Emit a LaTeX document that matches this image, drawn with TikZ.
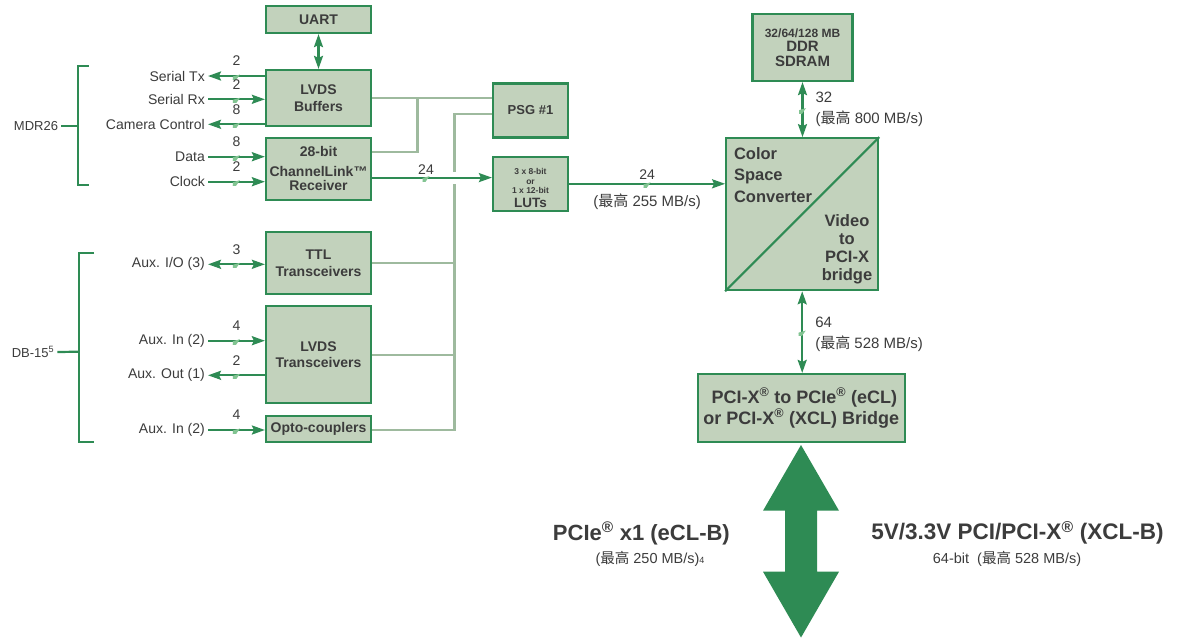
\documentclass[tikz,border=0pt]{standalone}
\usepackage{fontspec}
\setmainfont{Liberation Sans}
\newfontfamily\cjk{Noto Sans CJK SC}
\usetikzlibrary{arrows.meta,positioning}
\definecolor{boxfill}{RGB}{194,210,188}
\definecolor{boxline}{RGB}{46,139,84}
\definecolor{busgray}{RGB}{158,186,158}
\definecolor{txt}{RGB}{60,60,60}
\definecolor{tickc}{RGB}{130,196,146}
\newcommand{\zg}{{\cjk 最高}}
\newcommand{\reg}{\textsuperscript{®}}
\tikzset{
  blk/.style={draw=boxline, fill=boxfill, line width=2.2pt, text=txt, align=center,
    font=\bfseries\fontsize{14}{16.5}\selectfont, inner sep=2pt},
  sig/.style={draw=boxline, line width=2.2pt},
  bus/.style={draw=busgray, line width=2.4pt},
  brk/.style={draw=boxline, line width=2.2pt},
  lbl/.style={anchor=east, text=txt, font=\fontsize{14}{16}\selectfont, inner sep=3pt},
  note/.style={text=txt, font=\fontsize{15}{21.3}\selectfont, inner sep=2pt},
  num/.style={above=8pt, inner sep=1pt, text=txt, font=\fontsize{14}{14}\selectfont},
  slash/.style={inner sep=0pt, minimum width=7pt, minimum height=5pt, yshift=-1pt,
    path picture={\draw[tickc, line width=0.8pt] (path picture bounding box.south west) -- (path picture bounding box.north east);}},
  >={Stealth[length=13pt, width=9pt, inset=2pt]}
}
\begin{document}
\begin{tikzpicture}[x=1pt, y=-1pt]
\fill[white] (0,0) rectangle (1180,638);
\useasboundingbox (0,0) rectangle (1180,638);

% blocks
\node[blk, minimum width=105pt, minimum height=27pt] (uart) at (318.5,19.5) {UART};
\node[blk, minimum width=105pt, minimum height=56pt] (lvdsbuf) at (318.5,98) {LVDS\\Buffers};
\node[blk, minimum width=105pt, minimum height=62pt, font=\bfseries\fontsize{14}{14.5}\selectfont] (rx) at (318.5,168.6) {28-bit\\[5pt]ChannelLink™\\Receiver};
\node[blk, minimum width=105pt, minimum height=62pt] (ttl) at (318.5,263) {TTL\\Transceivers};
\node[blk, minimum width=105pt, minimum height=97pt] (lvdstr) at (318.5,354.7) {LVDS\\Transceivers};
\node[blk, minimum width=105pt, minimum height=26pt] (opto) at (318.5,428.6) {Opto-couplers};
\node[blk, minimum width=75pt, minimum height=54pt, font=\bfseries\fontsize{13}{15}\selectfont] (psg) at (530.5,110.5) {PSG \#1};
\node[blk, minimum width=75pt, minimum height=54pt] (lut) at (530.5,183.8) {};
\node[text=txt, align=center, inner sep=0pt, font=\bfseries\fontsize{8.5}{9.5}\selectfont] (luttxt) at (530.5,181) {3 x 8-bit\\or\\1 x 12-bit};
\node[text=txt, inner sep=0pt, font=\bfseries\fontsize{13.5}{13.5}\selectfont] (lutname) at (530.5,202.7) {LUTs};
\node[blk, minimum width=100pt, minimum height=67pt, font=\bfseries\fontsize{15}{14.5}\selectfont] (ddr) at (802.5,47.5) {{\fontsize{12}{13}\selectfont 32/64/128 MB}\\DDR\\SDRAM};
\node[blk, minimum width=152pt, minimum height=152pt] (csc) at (802.2,214.2) {};
\draw[sig] (csc.south west) -- (csc.north east);
\node[anchor=west, align=left, text=txt, font=\bfseries\fontsize{16.5}{21.7}\selectfont] (csctxt) at (730.5,175) {Color\\Space\\Converter};
\node[align=center, text=txt, font=\bfseries\fontsize{16.5}{18}\selectfont] (bridgetxt) at (847,249) {Video\\to\\PCI-X\\bridge};
\node[blk, minimum width=207pt, minimum height=68pt, font=\bfseries\fontsize{18}{21}\selectfont] (bridge) at (801.3,408) {\hspace*{6pt}PCI-X\reg{} to PCIe\reg{} (eCL)\\or PCI-X\reg{} (XCL) Bridge};

% connector labels
\node[lbl] (stx) at (208,76) {Serial Tx};
\node[lbl] (srx) at (208,99.3) {Serial Rx};
\node[lbl] (cam) at (208,124.3) {Camera Control};
\node[lbl] (dat) at (208,156.7) {Data};
\node[lbl] (clk) at (208,181.7) {Clock};
\node[lbl] (aio) at (208,264.3) {Aux. I/O (3)};
\node[lbl] (ain) at (208,340.7) {Aux. In (2)};
\node[lbl] (aout) at (208,375.3) {Aux. Out (1)};
\node[lbl] (ain2) at (208,430) {Aux. In (2)};

% connectors
\draw[sig,<->] (uart) -- (lvdsbuf);
\draw[sig,->] (lvdsbuf.west |- stx.east) -- node[slash]{} node[num]{2} (stx.east);
\draw[sig,->] (srx.east) -- node[slash]{} node[num]{2} (lvdsbuf.west |- srx.east);
\draw[sig,->] (lvdsbuf.west |- cam.east) -- node[slash]{} node[num]{8} (cam.east);
\draw[sig,->] (dat.east) -- node[slash]{} node[num]{8} (rx.west |- dat.east);
\draw[sig,->] (clk.east) -- node[slash]{} node[num]{2} (rx.west |- clk.east);
\draw[sig,<->] (aio.east) -- node[slash]{} node[num]{3} (ttl.west |- aio.east);
\draw[sig,->] (ain.east) -- node[slash]{} node[num]{4} (lvdstr.west |- ain.east);
\draw[sig,->] (lvdstr.west |- aout.east) -- node[slash]{} node[num]{2} (aout.east);
\draw[sig,->] (ain2.east) -- node[slash]{} node[num]{4} (opto.west |- ain2.east);

% gray bus
\coordinate (j1) at (417.3,98);
\coordinate (j2) at (417.3,151.7);
\coordinate (j3) at (454.3,114);
\coordinate (j4) at (454.3,172);
\coordinate (j5) at (454.3,184);
\coordinate (j6) at (454.3,430);
\draw[bus] (lvdsbuf.east) -- (lvdsbuf.east -| psg.west);
\draw[bus] (j1) -- (j2) -- (j2 -| rx.east);
\draw[bus] (j3 -| psg.west) -- (j3) -- (j4);
\draw[bus] (j5) -- (j6) -- (j6 -| opto.east);
\draw[bus] (ttl.east) -- (ttl.east -| j6);
\draw[bus] (lvdstr.east) -- (lvdstr.east -| j6);

\draw[sig,->] ([yshift=-9pt]rx.east) -- node[pos=0.45,slash]{} node[pos=0.45,num,above=1pt]{24} ([yshift=-9pt]rx.east -| lut.west);
\draw[sig,->] (lut.east) -- node[slash]{} node[num,above=2pt]{24} node[note,below=7pt]{(\zg{} 255 MB/s)} (lut.east -| csc.west);
\draw[sig,<->] (ddr.south) -- node[slash]{} node[note,anchor=west,align=left,xshift=10pt]{32\\(\zg{} 800 MB/s)} (ddr.south |- csc.north);
\draw[sig,<->] (csc.south) -- node[slash]{} node[note,anchor=west,align=left,xshift=10pt,yshift=-2pt]{64\\(\zg{} 528 MB/s)} (csc.south |- bridge.north);

% connector brackets
\node[text=txt, font=\fontsize{13}{13}\selectfont, inner sep=3pt] (mdr) at (36,126) {MDR26};
\draw[brk] (88.5,66) -- (78,66) -- (78,185.3) -- (88.5,185.3);
\draw[brk] (78,126) -- (mdr.east);
\node[text=txt, font=\fontsize{13}{13}\selectfont, inner sep=3pt] (db) at (33,352) {DB-15\textsuperscript{5}};
\draw[brk] (94,253.3) -- (79,253.3) -- (79,441.7) -- (94,441.7);
\draw[brk] (79,351.7) -- (db.east);

% host bus arrow
\fill[boxline] (801,445) -- (839,510.7) -- (817,510.7) -- (817,571.7) -- (839,571.7) -- (801,637.5)
  -- (763,571.7) -- (785,571.7) -- (785,510.7) -- (763,510.7) -- cycle;
\node[text=txt, font=\bfseries\fontsize{22}{22}\selectfont] (pcie) at (641.4,533.3) {PCIe\reg{} x1 (eCL-B)};
\node[text=txt, font=\fontsize{14.5}{14.5}\selectfont] (pciesub) at (650,559) {(\zg{} 250 MB/s){\fontsize{9}{9}\selectfont 4}};
\node[text=txt, font=\bfseries\fontsize{22.5}{22.5}\selectfont] (pcix) at (1017.5,533) {5V/3.3V PCI/PCI-X\reg{} (XCL-B)};
\node[text=txt, font=\fontsize{14.5}{14.5}\selectfont] (pcixsub) at (1007,559) {64-bit\ \ (\zg{} 528 MB/s)};
\end{tikzpicture}
\end{document}
